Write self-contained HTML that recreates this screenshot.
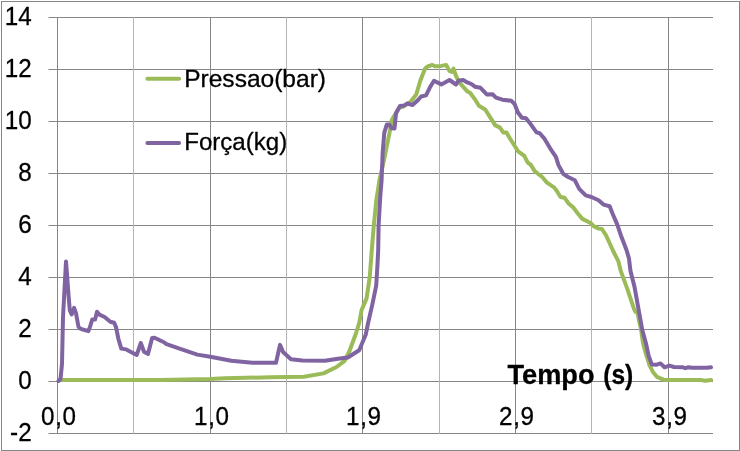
<!DOCTYPE html>
<html lang="pt">
<head>
<meta charset="utf-8">
<title>Pressao e Força</title>
<style>
html,body{margin:0;padding:0;background:#fff;}
body{width:740px;height:451px;overflow:hidden;}
svg{display:block;}
text{font-family:"Liberation Sans",sans-serif;fill:#000;stroke:#000;stroke-width:0.3;stroke-linejoin:round;}
.grid line{stroke:#868686;stroke-width:1;}
.grid line.mn{stroke:#B4B4B4;}
.ax text{font-size:25.5px;letter-spacing:0.6px;}
.ax text.yl{letter-spacing:0px;}
.leg text{font-size:24.4px;}
.ttl{font-size:28.4px;font-weight:bold;}
</style>
</head>
<body>
<svg width="740" height="451" viewBox="0 0 740 451">
<rect x="0" y="0" width="740" height="451" fill="#fff"/>
<rect x="1.5" y="1.5" width="738.0" height="449.0" fill="none" stroke="#868686" stroke-width="1"/>
<g class="grid">
<line x1="48.5" y1="17.5" x2="713" y2="17.5"/>
<line x1="48.5" y1="69.5" x2="713" y2="69.5"/>
<line x1="48.5" y1="121.5" x2="713" y2="121.5"/>
<line x1="48.5" y1="173.5" x2="713" y2="173.5"/>
<line x1="48.5" y1="225.5" x2="713" y2="225.5"/>
<line x1="48.5" y1="277.5" x2="713" y2="277.5"/>
<line x1="48.5" y1="329.5" x2="713" y2="329.5"/>
<line x1="48.5" y1="381.5" x2="713" y2="381.5"/>
<line x1="48.5" y1="433.5" x2="713" y2="433.5"/>
<line x1="57.50" y1="17" x2="57.50" y2="434"/>
<line class="mn" x1="133.50" y1="17" x2="133.50" y2="434"/>
<line x1="210.50" y1="17" x2="210.50" y2="434"/>
<line class="mn" x1="286.50" y1="17" x2="286.50" y2="434"/>
<line x1="362.50" y1="17" x2="362.50" y2="434"/>
<line class="mn" x1="439.50" y1="17" x2="439.50" y2="434"/>
<line x1="515.50" y1="17" x2="515.50" y2="434"/>
<line class="mn" x1="591.50" y1="17" x2="591.50" y2="434"/>
<line x1="668.50" y1="17" x2="668.50" y2="434"/>
</g>
<g fill="none" stroke-linejoin="round" stroke-linecap="round" stroke-width="4">
<path stroke="#9BBB59" d="M60.0,380.0 L160.0,379.9 L210.0,379.0 L225.0,378.3 L270.0,377.3 L304.0,376.7 L323.5,373.4 L336.5,367.0 L344.6,360.8 L349.5,351.0 L356.0,333.2 L359.2,323.0 L361.6,310.0 L366.5,298.6 L369.7,277.6 L371.8,250.0 L373.8,225.4 L376.2,201.1 L379.5,180.0 L384.3,158.6 L387.6,142.4 L390.8,126.2 L391.9,119.7 L399.2,107.6 L403.2,106.7 L410.5,101.9 L416.2,94.6 L420.3,80.8 L425.1,68.6 L427.6,66.5 L432.4,64.9 L434.9,66.2 L441.4,65.9 L446.2,64.9 L449.5,71.1 L451.9,71.9 L453.5,68.6 L456.0,75.9 L459.2,82.4 L467.3,91.4 L470.0,92.7 L474.9,99.2 L478.9,105.7 L485.4,109.7 L491.0,118.6 L495.1,125.1 L500.0,127.6 L503.2,132.4 L506.5,132.4 L509.7,138.1 L515.4,147.0 L517.8,151.1 L524.3,155.9 L527.6,162.4 L530.8,164.9 L534.9,171.4 L542.2,177.0 L547.0,182.7 L554.3,187.6 L556.5,190.5 L560.5,197.0 L564.6,197.8 L568.6,203.5 L573.5,207.6 L577.6,213.2 L582.4,218.9 L590.5,223.0 L593.8,226.2 L598.6,228.6 L601.9,229.0 L605.9,235.1 L610.0,244.0 L612.7,250.0 L618.4,261.4 L620.8,271.1 L627.3,288.9 L633.8,308.4 L635.4,311.6 L637.8,313.5 L638.7,319.1 L641.1,329.6 L643.0,342.9 L645.5,352.4 L649.6,365.4 L652.9,371.9 L656.9,376.8 L663.5,379.7 L669.7,380.0 L700.5,380.0 L705.4,380.8 L711.1,380.0"/>
<path stroke="#8064A2" d="M58.5,381.0 L60.5,379.0 L62.0,364.0 L62.5,340.0 L63.0,317.0 L66.0,261.5 L68.6,296.0 L69.8,310.3 L71.7,314.4 L74.1,307.9 L76.0,313.2 L78.4,326.5 L79.8,328.4 L83.6,329.8 L88.4,331.1 L89.8,327.5 L92.2,319.6 L95.1,319.6 L97.0,311.7 L99.4,314.6 L104.6,317.0 L110.3,321.7 L114.2,322.7 L116.1,327.5 L118.4,339.0 L121.3,348.6 L126.2,349.4 L136.7,355.0 L140.8,343.0 L144.0,351.8 L148.0,354.0 L152.1,338.0 L154.5,337.7 L163.5,342.0 L166.5,344.2 L181.0,349.1 L197.3,354.6 L210.3,356.7 L231.3,360.8 L252.4,362.7 L276.0,362.7 L280.0,344.9 L283.0,351.9 L291.0,359.2 L302.4,360.5 L325.0,360.8 L338.0,358.8 L347.8,357.5 L359.2,350.2 L365.7,334.8 L368.1,323.0 L372.2,305.1 L376.2,285.7 L377.4,266.2 L378.2,250.0 L378.6,225.4 L380.3,196.2 L381.6,180.0 L382.7,152.2 L384.3,132.7 L386.8,124.6 L389.2,124.6 L391.6,128.2 L394.5,128.6 L395.7,116.5 L396.0,113.2 L400.0,106.0 L404.0,105.6 L407.3,103.5 L412.5,105.1 L417.0,101.1 L421.1,96.5 L426.0,95.4 L430.0,87.3 L434.0,80.8 L441.3,84.4 L449.5,80.0 L456.0,84.5 L458.4,80.8 L463.2,80.0 L467.3,82.4 L471.4,84.0 L474.9,86.7 L480.5,87.8 L487.0,94.6 L492.7,94.3 L496.0,97.6 L502.4,99.7 L511.4,100.8 L514.6,104.0 L517.8,112.2 L521.9,117.8 L526.0,118.3 L530.8,124.3 L536.5,132.4 L539.7,133.2 L544.6,138.9 L550.3,148.6 L555.9,156.8 L558.4,164.9 L563.2,173.8 L568.1,177.0 L574.9,180.3 L579.2,188.9 L585.7,195.4 L591.4,197.0 L598.6,200.3 L603.5,204.6 L609.7,206.3 L612.4,213.2 L617.3,224.6 L621.4,236.8 L626.5,250.0 L628.9,258.1 L630.5,271.1 L634.6,287.3 L637.8,305.1 L640.5,320.0 L642.2,329.7 L646.2,344.3 L648.6,355.7 L651.9,364.6 L656.0,364.8 L660.5,363.4 L664.5,367.3 L669.5,365.6 L674.0,367.0 L683.0,367.3 L685.5,368.2 L688.5,367.2 L692.0,367.8 L707.0,367.8 L711.0,367.2"/>
</g>
<g class="leg">
<line x1="147.4" y1="78.8" x2="179.1" y2="78.8" stroke="#9BBB59" stroke-width="4" stroke-linecap="round"/>
<text x="184.2" y="86.7" textLength="141.8" lengthAdjust="spacingAndGlyphs">Pressao(bar)</text>
<line x1="147.4" y1="143" x2="179.1" y2="143" stroke="#8064A2" stroke-width="4" stroke-linecap="round"/>
<text x="184.2" y="150.4" textLength="103" lengthAdjust="spacingAndGlyphs">Força(kg)</text>
</g>
<g class="ax">
<text class="yl" transform="translate(31.6,24.5) scale(0.95,1)" text-anchor="end">14</text>
<text class="yl" transform="translate(31.6,76.5) scale(0.95,1)" text-anchor="end">12</text>
<text class="yl" transform="translate(31.6,128.5) scale(0.95,1)" text-anchor="end">10</text>
<text class="yl" transform="translate(31.6,180.5) scale(0.95,1)" text-anchor="end">8</text>
<text class="yl" transform="translate(31.6,232.5) scale(0.95,1)" text-anchor="end">6</text>
<text class="yl" transform="translate(31.6,284.5) scale(0.95,1)" text-anchor="end">4</text>
<text class="yl" transform="translate(31.6,336.5) scale(0.95,1)" text-anchor="end">2</text>
<text class="yl" transform="translate(31.6,388.5) scale(0.95,1)" text-anchor="end">0</text>
<text class="yl" transform="translate(31.6,440.5) scale(0.95,1)" text-anchor="end">-2</text>
<text transform="translate(58.80,425) scale(0.95,1)" text-anchor="middle">0,0</text>
<text transform="translate(211.80,425) scale(0.95,1)" text-anchor="middle">1,0</text>
<text transform="translate(363.80,425) scale(0.95,1)" text-anchor="middle">1,9</text>
<text transform="translate(516.80,425) scale(0.95,1)" text-anchor="middle">2,9</text>
<text transform="translate(669.80,425) scale(0.95,1)" text-anchor="middle">3,9</text>
</g>
<text class="ttl" y="383.5"><tspan x="507.5" textLength="87" lengthAdjust="spacingAndGlyphs">Tempo</tspan><tspan> </tspan><tspan x="603.3" textLength="30" lengthAdjust="spacingAndGlyphs">(s)</tspan></text>
</svg>
</body>
</html>
